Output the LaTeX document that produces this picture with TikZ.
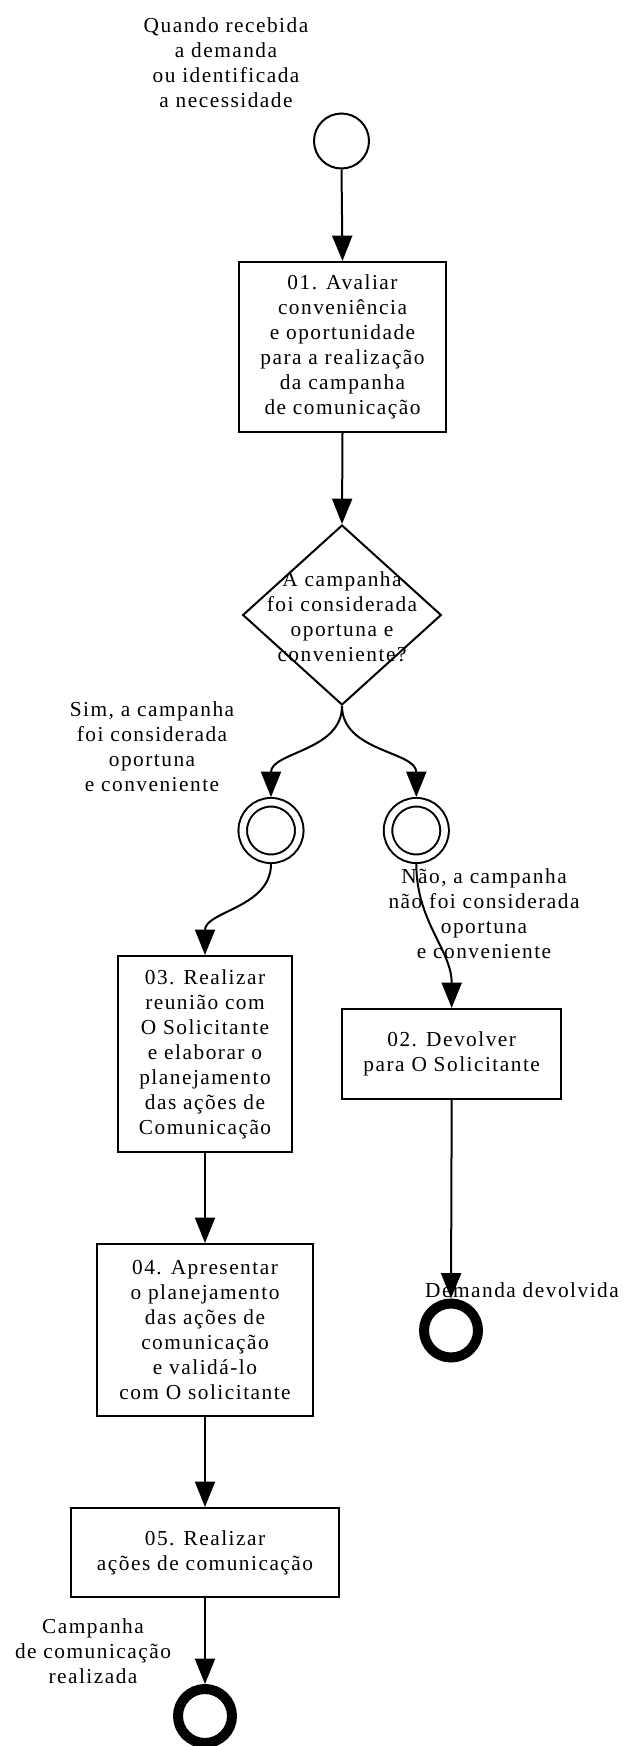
\documentclass[tikz,border=0pt]{standalone}
\usepackage{fontspec}
\setmainfont{Liberation Serif}[LetterSpace=7]
\usetikzlibrary{arrows.meta, shapes.geometric}

\newcommand{\procfont}{\fontsize{16pt}{18.75pt}\selectfont}

\tikzset{
  task/.style={draw, line width=1.6pt, align=center, inner sep=0pt, font=\procfont},
  decision/.style={diamond, draw, line width=1.5pt, inner sep=0pt,
    minimum width=149pt, minimum height=135pt},
  startev/.style={circle, draw, line width=1.5pt, inner sep=0pt, minimum size=41.25pt},
  catchev/.style={circle, draw, line width=1.5pt, double, double distance=4.9pt,
    inner sep=0pt, minimum size=42.4pt, outer sep=3.9pt},
  endev/.style={circle, draw, line width=7.5pt, inner sep=0pt, minimum size=40.5pt},
  note/.style={align=center, inner sep=0pt, font=\procfont},
  flow/.style={line width=1.5pt, -{Triangle[length=19pt,width=15pt]}}
}

\begin{document}
\begin{tikzpicture}[x=0.75pt,y=0.75pt,yscale=-1,xscale=1]
\useasboundingbox (0,0) rectangle (627,1746);

%Shape: Circle [start]
\node[startev] (start) at (341.5,141) {};
% Text Node
\node[note] (startlbl) at (226,63) {Quando recebida\\a demanda\\ou identificada\\a necessidade};

%Shape: Rectangle [01]
\node[task, minimum width=155pt, minimum height=127.5pt] (t01) at (342.5,347)
  {01. Avaliar\\conveniência\\e oportunidade\\para a realização\\da campanha\\de comunicação};

%Shape: Diamond [gateway]
\node[decision] (gw) at (342,615) {};
\node[note] (gwlbl) at (342,616.5) {A campanha\\foi considerada\\oportuna e\\conveniente?};

%Shape: Double Circle [sim / nao]
\node[catchev] (simev) at (271,830.5) {};
\node[catchev] (naoev) at (416.3,830.5) {};
% Text Node
\node[note] (simlbl) at (152,747) {Sim, a campanha\\foi considerada\\oportuna\\e conveniente};

%Shape: Rectangle [03]
\node[task, minimum width=130.5pt, minimum height=147pt] (t03) at (205,1054)
  {03. Realizar\\reunião com\\O Solicitante\\e elaborar o\\planejamento\\das ações de\\Comunicação};
%Shape: Rectangle [02]
\node[task, minimum width=164.5pt, minimum height=67.5pt] (t02) at (451.7,1054)
  {02. Devolver\\para O Solicitante};
%Shape: Rectangle [04]
\node[task, minimum width=162pt, minimum height=129pt] (t04) at (205,1330)
  {04. Apresentar\\o planejamento\\das ações de\\comunicação\\e validá-lo\\com O solicitante};
%Shape: Rectangle [05]
\node[task, minimum width=201pt, minimum height=66.75pt] (t05) at (205,1552.5)
  {05. Realizar\\ações de comunicação};

%Shape: Circle [end]
\node[endev] (devev) at (451,1330.5) {};
\node[endev] (fimev) at (205,1716) {};

% flows (y axis is flipped, so 90 points down the page)
\draw[flow] (start.south) -- (t01.north);
\draw[flow] (t01.south) -- (gw.north);
\draw[flow] (gw.south) to[out=90,in=-90] (simev.north);
\draw[flow] (gw.south) to[out=90,in=-90] (naoev.north);
\draw[flow] (simev.south) to[out=90,in=-90] (t03.north);
\draw[flow] (naoev.south) to[out=90,in=-90] (t02.north);
\draw[flow] (t03.south) -- (t04.north);
\draw[flow] (t04.south) -- (t05.north);
\draw[flow] (t05.south) -- (fimev.north);
\draw[flow] (t02.south) -- (devev.north);

% Text Node
\node[note] (naolbl) at (484,914) {Não, a campanha\\não foi considerada\\oportuna\\e conveniente};
% Text Node
\node[note] (devlbl) at (522,1290) {Demanda devolvida};
% Text Node
\node[note] (fimlbl) at (93,1651) {Campanha\\de comunicação\\realizada};

\end{tikzpicture}
\end{document}
